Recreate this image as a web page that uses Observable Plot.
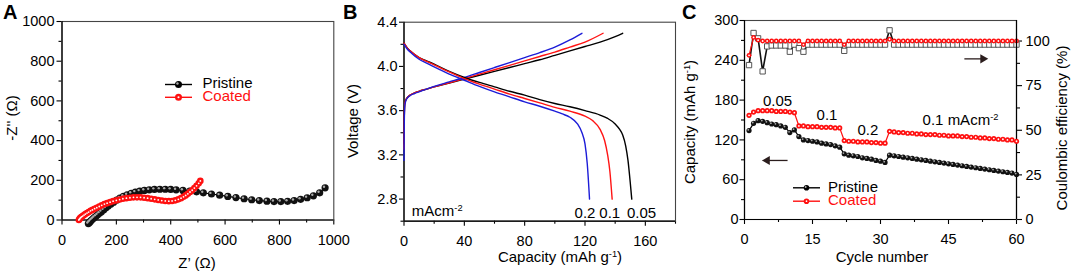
<!DOCTYPE html>
<html><head><meta charset="utf-8">
<script src="https://cdn.jsdelivr.net/npm/d3@7"></script>
<script src="https://cdn.jsdelivr.net/npm/@observablehq/plot@0.6"></script>
<style>
body{margin:0;background:#fff;}
#root{position:relative;width:1072px;height:273px;overflow:hidden;font-family:"Liberation Sans",Arial,sans-serif;background:#fff;}
.p{position:absolute;top:0;}
.p svg{overflow:visible;}
.t{position:absolute;white-space:pre;color:#000;line-height:0.8;}
.t sup{font-size:0.62em;vertical-align:0.55em;line-height:0;}
.lg{position:absolute;white-space:pre;font-size:15px;color:#ff1010;}
.lg::first-line{color:#000;}
</style></head><body><div id="root"></div>
<script>
// ---------- Panel A: Nyquist ----------
const aPristineZre = [97,101,105,109,114,119,125,131,138,145,153,161,170,180,190,201,213,226,240,255,270,286,303,321,340,360,380,400,420,445,470,495,520,550,580,610,640,670,698,726,754,780,805,830,854,878,902,925,948,968];
const aPristineZim = [-18,-12,-6,0,6,12,19,26,34,42,51,60,70,80,90,100,110,119,127,134,140,145,149,152,154,155,155,154,152,149,146,142,137,131,125,119,113,107,102,98,95,93,93,94,98,104,112,122,137,162];
const aCoatedZre = [62,64,66,69,72,76,81,86,92,98,105,112,120,128,137,146,156,166,177,188,200,212,224,237,250,263,276,289,302,315,328,341,354,367,380,393,405,417,428,438,447,455,463,471,479,487,495,503,509];
const aCoatedZim = [0,4,8,12,16,20,25,30,35,40,46,51,57,62,68,74,80,85,90,95,99,103,107,110,112,114,114,114,112,110,107,104,101,98,96,95,96,99,104,110,117,124,132,141,150,161,172,185,197];
const aTicks = [0,200,400,600,800,1000];
const aMinor = [100,300,500,700,900];
const seriesNames = ["Pristine", "Coated"];
const seriesColors = ["#000000", "#ff1010"];

// ---------- Panel B: charge/discharge ----------
const bCh005Cap = [0,0.2,0.5,1,2,4,7,10,15,20,30,40,50,60,70,80,90,100,110,120,130,140,145];
const bCh005V   = [3.3,3.55,3.66,3.69,3.715,3.74,3.76,3.775,3.795,3.815,3.85,3.885,3.92,3.955,3.99,4.025,4.06,4.1,4.14,4.18,4.22,4.27,4.3];
const bCh01Cap  = [0,0.2,0.5,1,2,4,7,10,15,20,30,40,50,60,70,80,90,100,110,120,132];
const bCh01V    = [3.25,3.55,3.66,3.69,3.715,3.74,3.76,3.775,3.795,3.815,3.852,3.89,3.93,3.97,4.01,4.05,4.09,4.13,4.175,4.22,4.3];
const bCh02Cap  = [0,0.2,0.5,1,2,4,7,10,15,20,30,40,50,60,70,80,90,100,110,118];
const bCh02V    = [3.15,3.5,3.64,3.68,3.71,3.735,3.755,3.77,3.795,3.82,3.86,3.9,3.945,3.99,4.035,4.08,4.125,4.175,4.24,4.3];
const bDis005Cap = [0,2,5,10,15,20,30,40,50,60,70,80,90,100,110,120,130,135,140,143,145,147,148.5,150,151];
const bDis005V   = [4.21,4.17,4.13,4.08,4.05,4.02,3.955,3.9,3.855,3.815,3.775,3.74,3.7,3.665,3.635,3.6,3.56,3.53,3.48,3.43,3.38,3.28,3.15,2.95,2.8];
const bDis01Cap  = [0,2,5,10,15,20,30,40,50,60,70,80,90,100,110,120,125,130,133,135,136.5,138];
const bDis01V    = [4.21,4.17,4.13,4.08,4.045,4.015,3.95,3.89,3.84,3.795,3.75,3.71,3.67,3.63,3.595,3.55,3.51,3.43,3.33,3.2,3.05,2.8];
const bDis02Cap  = [0,2,5,10,15,20,30,40,50,60,70,80,90,100,105,110,115,118,120,121.5,123];
const bDis02V    = [4.2,4.16,4.12,4.065,4.03,3.995,3.93,3.875,3.82,3.77,3.725,3.68,3.64,3.595,3.57,3.54,3.48,3.4,3.3,3.12,2.8];
const bRates = ["0.05","0.1","0.2"];
const bColors = ["#000000","#ff1414","#1c1cd8"];
const bXTicks = [0,40,80,120,160], bXMinor = [20,60,100,140,180];
const bYTicks = [2.8,3.2,3.6,4.0,4.4], bYMinor = [2.6,3.0,3.4,3.8,4.2];
const bRateLabels = [{t:"0.2", cap:120, v:2.676},{t:"0.1", cap:136.4, v:2.676},{t:"0.05", cap:157.5, v:2.676}];

// ---------- Panel C: cycling ----------
const cCycles = d3.range(1, 61);
const cPristineCap = [134,145,149,148,146,144,143,141,139,131,135,125,120,119,118,117,115,114,113,111,109,99,97,96,95,93,92,91,89,88,86,97,96,95,94,93,92,91,90,89,88,87,86,85,84,83,82,81,80,79,78,77,76,75,74,73,72,71,70,68];
const cCoatedCap = [157,162,164,164,164,164,163,163,163,162,161,141,141,140,140,140,139,139,139,138,138,119,118,118,117,117,117,116,116,115,115,133,132,131,131,130,130,129,129,128,128,128,127,127,126,126,126,125,125,124,124,123,123,122,122,121,121,120,120,118];
const cPristineCE = [86.5,104.5,101.5,83,97,97.5,97.5,97.5,97.5,94,98,96,94,98,98,98,98,98,98,98,98,94.5,98,98,98,98,98,98,98,98,98,106,98,98,98,98,98,98,98,98,98,98,98,98,98,98,98,98,98,98,98,98,98,98,98,98,98,98,98,98];
const cCoatedCE = [92,102,100.5,100,100,100,100,100,100,100,100,100,98,100,100,100,100,100,100,100,100,98,100,100,100,100,100,100,100,100,100,101,100,100,100,100,100,100,100,100,100,100,100,100,100,100,100,100,100,100,100,100,100,100,100,100,100,100,100,100];
const cXTicks = [0,15,30,45,60], cXMinor = [7.5,22.5,37.5,52.5];
const cCapTicks = [0,60,120,180,240,300], cCapMinor = [30,90,150,210,270];
const cCETicks = [0,25,50,75,100], cCEMinor = [12.5,37.5,62.5,87.5];
const cRateLabels = [{t:"0.05", cyc:7.3, cap:179},{t:"0.1", cyc:18.2, cap:157},{t:"0.2", cyc:27.2, cap:134}];

// ---------- helpers ----------
const root = document.getElementById("root");
const FONT = '"Liberation Sans", Arial, sans-serif';
function place(node, left, width){
  const d = document.createElement("div"); d.className = "p";
  d.style.left = left + "px"; d.style.width = width + "px";
  d.appendChild(node); root.appendChild(d);
}
function addText(html, x, y, o = {}){
  const d = document.createElement("div"); d.className = "t";
  d.innerHTML = html;
  d.style.left = x + "px"; d.style.top = y + "px";
  d.style.fontSize = (o.size || 15) + "px";
  if (o.color) d.style.color = o.color;
  if (o.bold) d.style.fontWeight = "bold";
  let tr = o.anchor === "start" ? "translate(0,-50%)" : o.anchor === "topleft" ? "" : "translate(-50%,-50%)";
  if (o.rotate) tr += " rotate(-90deg)";
  d.style.transform = tr;
  root.appendChild(d);
}
// legend: swatches (line + marker) and one two-line text block (first line black, second red)
function legend(x1, x2, y0, gap, r, tx){
  const w = x2 - x1, h = gap + 2 * r + 4;
  const d = document.createElement("div");
  d.style.cssText = `position:absolute;left:${x1}px;top:${y0 - r - 2}px;width:${w}px;height:${h}px`;
  let s = `<svg width="${w}" height="${h}" style="display:block;overflow:visible">`;
  seriesNames.forEach((n, i) => {
    const cy = r + 2 + i * gap, col = seriesColors[i];
    s += `<line x1="0" x2="${w}" y1="${cy}" y2="${cy}" stroke="${col}" stroke-width="1.4"/><circle cx="${w/2}" cy="${cy}" r="${r}" fill="${col}"/>`;
    s += i === 0 ? `<circle cx="${w/2 - r*0.3}" cy="${cy - r*0.3}" r="${r*0.35}" fill="#aaa"/>` : `<circle cx="${w/2}" cy="${cy}" r="${r*0.3}" fill="#fff"/>`;
  });
  d.innerHTML = s + "</svg>";
  root.appendChild(d);
  const t = document.createElement("div"); t.className = "lg";
  t.style.left = tx + "px";
  t.style.lineHeight = gap + "px";
  t.style.top = (y0 - 1 - ((gap - 16.76) / 2 + 13.58 - 5.37)) + "px";
  t.textContent = seriesNames.join("\n");
  root.appendChild(t);
}
const baseStyle = {fontFamily: FONT, fontSize: "14.5px", color: "#000", overflow: "visible", background: "transparent"};
function axes(xT, xM, yT, yM, xFmt, yFmt, xPad, yPad, ySize){
  return [
    Plot.axisX({ticks: xT, tickSize: 5, tickPadding: xPad, label: null, tickFormat: xFmt, strokeWidth: 1.1}),
    Plot.axisX({ticks: xM, tickSize: 3, tickFormat: () => "", label: null, strokeWidth: 1.1}),
    Plot.axisY({ticks: yT, tickSize: ySize, tickPadding: yPad, label: null, tickFormat: yFmt, strokeWidth: 1.1}),
    Plot.axisY({ticks: yM, tickSize: 3, tickFormat: () => "", label: null, strokeWidth: 1.1})
  ];
}
const plain = d => String(d);

// ---------- Panel A ----------
const aPristine = aPristineZre.map((x, i) => ({x, y: aPristineZim[i]}));
const aCoated = aCoatedZre.map((x, i) => ({x, y: aCoatedZim[i]}));
const plotA = Plot.plot({
  width: 345, height: 273,
  marginLeft: 61.5, marginRight: 11.7, marginTop: 21, marginBottom: 53.5,
  x: {domain: [0, 1000]}, y: {domain: [0, 1000]},
  style: baseStyle,
  marks: [
    ...axes(aTicks, aMinor, aTicks, aMinor, plain, plain, 9.5, 2.5, 5),
    Plot.frame({stroke: "#444", strokeWidth: 1.1}),
    Plot.ruleX([0], {stroke: "#000", strokeWidth: 1.2}),
    Plot.ruleY([0], {stroke: "#000", strokeWidth: 1.2}),
    Plot.line(aPristine, {x: "x", y: "y", stroke: "#000", strokeWidth: 1.2}),
    Plot.dot(aPristine, {x: "x", y: "y", r: 3.6, fill: "#111"}),
    Plot.dot(aPristine, {x: "x", y: "y", r: 1.2, fill: "#aaa", dx: -1.1, dy: -1.1}),
    Plot.line(aCoated, {x: "x", y: "y", stroke: "#ff1010", strokeWidth: 1.2}),
    Plot.dot(aCoated, {x: "x", y: "y", r: 3.3, fill: "#ff1010"}),
    Plot.dot(aCoated, {x: "x", y: "y", r: 0.9, fill: "#fff"})
  ]
});
place(plotA, 0, 345);

// ---------- Panel B ----------
const bCurves = [
  ...[bCh005Cap, bCh01Cap, bCh02Cap].map((caps, k) => caps.map((c, i) => ({c, v: [bCh005V, bCh01V, bCh02V][k][i], rate: bRates[k], id: "ch" + k}))).flat(),
  ...[bDis005Cap, bDis01Cap, bDis02Cap].map((caps, k) => caps.map((c, i) => ({c, v: [bDis005V, bDis01V, bDis02V][k][i], rate: bRates[k], id: "dis" + k}))).flat()
];
const plotB = Plot.plot({
  width: 335, height: 273,
  marginLeft: 58.5, marginRight: 5, marginTop: 21.7, marginBottom: 52.3,
  x: {domain: [0, 180]}, y: {domain: [2.6, 4.4]},
  color: {domain: bRates, range: bColors},
  style: baseStyle,
  marks: [
    ...axes(bXTicks, bXMinor, bYTicks, bYMinor, plain, d => d.toFixed(1), 9.5, 2, 4.5),
    Plot.frame({stroke: "#444", strokeWidth: 1.1}),
    Plot.ruleX([0], {stroke: "#000", strokeWidth: 1.2}),
    Plot.ruleY([2.6], {stroke: "#000", strokeWidth: 1.2}),
    Plot.line(bCurves, {x: "c", y: "v", z: "id", stroke: "rate", strokeWidth: 1.4, curve: "monotone-x"}),
    Plot.text(bRateLabels, {x: "cap", y: "v", text: "t", fontSize: 15, fill: "#000"})
  ]
});
place(plotB, 345, 335);
{
  const sx = plotB.scale("x"), sy = plotB.scale("y");
  addText("mAcm<sup>-2</sup>", 345 + sx.apply(5.5), sy.apply(2.69), {anchor: "start", size: 15});
}

// ---------- Panel C ----------
const cCE = [
  ...cCycles.map((n, i) => ({n, v: cPristineCE[i], s: "Pristine"})),
  ...cCycles.map((n, i) => ({n, v: cCoatedCE[i], s: "Coated"}))
];
const cCap = [
  ...cCycles.map((n, i) => ({n, v: cPristineCap[i], s: "Pristine"})),
  ...cCycles.map((n, i) => ({n, v: cCoatedCap[i], s: "Coated"}))
];
const cArrowCE = [{x1: 48.5, x2: 52.6, y: 90}];
const cArrowCap = [{x1: 9.5, x2: 5.0, y: 89}];
const plotCE = Plot.plot({
  width: 392, height: 273,
  marginLeft: 64, marginRight: 56, marginTop: 20, marginBottom: 54,
  x: {domain: [0, 60], axis: null}, y: {domain: [0, 111.5]},
  style: baseStyle,
  marks: [
    Plot.axisY({anchor: "right", ticks: cCETicks, tickSize: 5, tickPadding: 4, label: null, tickFormat: plain, strokeWidth: 1.1}),
    Plot.axisY({anchor: "right", ticks: cCEMinor, tickSize: 3, tickFormat: () => "", label: null, strokeWidth: 1.1}),
    Plot.line(cCE.filter(d => d.s === "Pristine"), {x: "n", y: "v", stroke: "#111", strokeWidth: 1.6}),
    Plot.dot(cCE.filter(d => d.s === "Pristine"), {x: "n", y: "v", symbol: "square", r: 3, fill: "#fff", stroke: "#555", strokeWidth: 1}),
    Plot.line(cCE.filter(d => d.s === "Coated"), {x: "n", y: "v", stroke: "#ff1010", strokeWidth: 1.2}),
    Plot.dot(cCE.filter(d => d.s === "Coated"), {x: "n", y: "v", r: 2.4, fill: "#ff1010"}),
    Plot.dot(cCE.filter(d => d.s === "Coated"), {x: "n", y: "v", r: 0.9, fill: "#fff"}),
    Plot.link(cArrowCE, {x1: "x1", x2: "x2", y1: "y", y2: "y", stroke: "#2b1d1d", strokeWidth: 1.3}),
    Plot.dot(cArrowCE, {x: "x2", y: "y", symbol: "triangle", r: 3.4, rotate: 90, fill: "#2b1d1d"})
  ]
});
place(plotCE, 680, 392);
const plotC = Plot.plot({
  width: 392, height: 273,
  marginLeft: 64, marginRight: 56, marginTop: 20, marginBottom: 54,
  x: {domain: [0, 60]}, y: {domain: [0, 300]},
  style: baseStyle,
  marks: [
    ...axes(cXTicks, cXMinor, cCapTicks, cCapMinor, plain, plain, 9.5, 1.5, 4.5),
    Plot.frame({stroke: "#444", strokeWidth: 1.1}),
    Plot.ruleX([0], {stroke: "#000", strokeWidth: 1.2}),
    Plot.ruleX([60], {stroke: "#000", strokeWidth: 1.2}),
    Plot.ruleY([0], {stroke: "#000", strokeWidth: 1.2}),
    Plot.line(cCap.filter(d => d.s === "Pristine"), {x: "n", y: "v", stroke: "#000", strokeWidth: 1.2}),
    Plot.dot(cCap.filter(d => d.s === "Pristine"), {x: "n", y: "v", r: 2.6, fill: "#111"}),
    Plot.dot(cCap.filter(d => d.s === "Pristine"), {x: "n", y: "v", r: 0.9, fill: "#aaa", dx: -0.8, dy: -0.8}),
    Plot.line(cCap.filter(d => d.s === "Coated"), {x: "n", y: "v", stroke: "#ff1010", strokeWidth: 1.2}),
    Plot.dot(cCap.filter(d => d.s === "Coated"), {x: "n", y: "v", r: 2.6, fill: "#ff1010"}),
    Plot.dot(cCap.filter(d => d.s === "Coated"), {x: "n", y: "v", r: 0.9, fill: "#fff"}),
    Plot.text(cRateLabels, {x: "cyc", y: "cap", text: "t", fontSize: 15, fill: "#000"}),
    Plot.link(cArrowCap, {x1: "x1", x2: "x2", y1: "y", y2: "y", stroke: "#2b1d1d", strokeWidth: 1.3}),
    Plot.dot(cArrowCap, {x: "x2", y: "y", symbol: "triangle", r: 3.4, rotate: -90, fill: "#2b1d1d"})
  ]
});
place(plotC, 680, 392);
{
  const sx = plotC.scale("x"), sy = plotC.scale("y");
  addText("0.1 mAcm<sup>-2</sup>", 680 + sx.apply(39.4), sy.apply(149), {anchor: "start", size: 15});
}

// ---------- titles, letters, legends ----------
addText("A", 3, 4, {anchor: "topleft", size: 20, bold: true});
addText("B", 343, 4, {anchor: "topleft", size: 20, bold: true});
addText("C", 682, 4, {anchor: "topleft", size: 20, bold: true});
addText("-Z'' (Ω)", 12, 118, {rotate: true});
addText("Z’ (Ω)", 197, 263);
addText("Voltage (V)", 353, 121, {rotate: true});
addText("Capacity (mAh g<sup>-1</sup>)", 560, 257);
addText("Capacity (mAh g<sup>-1</sup>)", 690, 122, {rotate: true});
addText("Coulombic efficiency (%)", 1062, 128, {rotate: true});
addText("Cycle number", 882, 257);
legend(165, 192, 84, 12.8, 3.5, 202.5);
legend(793, 820, 187.3, 13.4, 2.8, 828);
</script></body></html>
